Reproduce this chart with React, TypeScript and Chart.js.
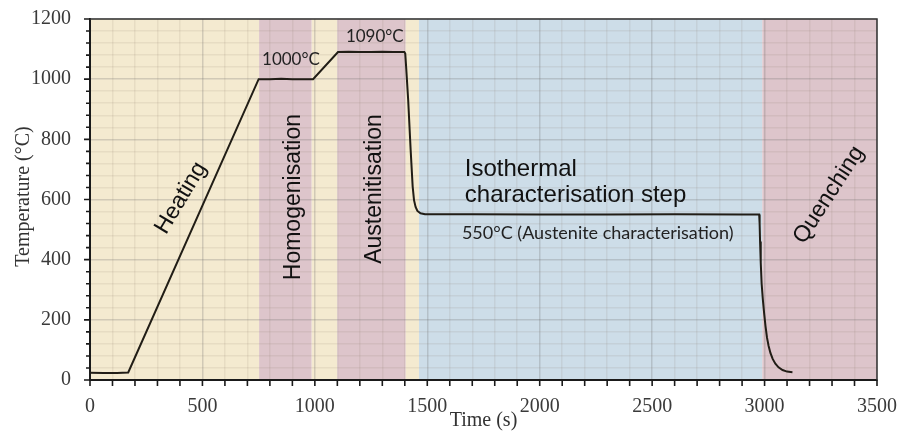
import { useEffect, useRef } from 'react';
import { Chart, registerables } from 'chart.js';

Chart.register(...registerables);

// Measured temperature profile (time in s, temperature in °C)
const TIME_S = [0, 60, 120, 170, 750, 800, 850, 900, 950, 992, 1103, 1150, 1200, 1250, 1300, 1350, 1398, 1402, 1406, 1415, 1426, 1435, 1441, 1448, 1456, 1470, 1490, 1700, 2000, 2300, 2600, 2900, 2976, 2978, 2980, 2983, 2987, 2992, 2998, 3004, 3011, 3018, 3026, 3036, 3048, 3062, 3080, 3100, 3124];
const TEMP_C = [24, 23, 23, 25, 1000, 1000, 1001, 1000, 1000, 1000, 1090, 1091, 1090, 1090, 1091, 1090, 1090, 1085, 1040, 931, 765, 643, 598, 575, 562, 554, 551, 551, 550, 550, 551, 550, 550, 520, 460, 390, 320, 270, 222, 180, 140, 113, 90, 70, 54, 42, 33, 28, 26];

// Process phases (shaded bands)
const PHASE_START = [0, 752, 986, 1100, 1404, 1463, 2990];
const PHASE_END = [752, 986, 1100, 1404, 1463, 2990, 3500];
const PHASE_KIND = ['ramp', 'hold', 'ramp', 'hold', 'ramp', 'iso', 'hold'];

// Axis ticks
const X_MAJOR = [0, 500, 1000, 1500, 2000, 2500, 3000, 3500];
const Y_MAJOR = [0, 200, 400, 600, 800, 1000, 1200];

const KIND_COLOR: Record<string, string> = {
  ramp: 'rgb(244,234,208)',
  hold: 'rgb(221,197,203)',
  iso: 'rgb(205,221,232)',
};

const SERIF = '"Liberation Serif", "DejaVu Serif", serif';
const SANS = '"Liberation Sans", Arial, sans-serif';
const CAL = 'Lato, "Open Sans", sans-serif';

export default function App() {
  const canvasRef = useRef<HTMLCanvasElement | null>(null);

  useEffect(() => {
    const canvas = canvasRef.current;
    if (!canvas) return;

    const phasePlugin = {
      id: 'phases',
      beforeDraw(chart: any) {
        const { ctx, chartArea } = chart;
        const xs = chart.scales.x;
        ctx.save();
        for (let i = 0; i < PHASE_START.length; i++) {
          const x1 = xs.getPixelForValue(PHASE_START[i]);
          const x2 = xs.getPixelForValue(PHASE_END[i]);
          ctx.fillStyle = KIND_COLOR[PHASE_KIND[i]];
          ctx.fillRect(x1, chartArea.top, x2 - x1, chartArea.bottom - chartArea.top);
        }
        ctx.restore();
      },
      afterDatasetsDraw(chart: any) {
        const { ctx } = chart;
        const xs = chart.scales.x;
        const ys = chart.scales.y;
        const px = (t: number) => xs.getPixelForValue(t);
        const py = (v: number) => ys.getPixelForValue(v);
        ctx.save();
        ctx.fillStyle = '#111';

        const rotText = (txt: string, t: number, v: number, deg: number, font: string) => {
          ctx.save();
          ctx.translate(px(t), py(v));
          ctx.rotate((deg * Math.PI) / 180);
          ctx.font = font;
          ctx.textAlign = 'center';
          ctx.textBaseline = 'middle';
          ctx.fillText(txt, 0, 0);
          ctx.restore();
        };

        rotText('Heating', 405, 605, -59, `23px ${SANS}`);
        rotText('Homogenisation', 907, 608, -90, `23px ${SANS}`);
        rotText('Austenitisation', 1267, 635, -90, `23px ${SANS}`);
        rotText('Quenching', 3286, 615, -57, `23px ${SANS}`);

        ctx.textAlign = 'left';
        ctx.textBaseline = 'alphabetic';
        ctx.font = `24px ${SANS}`;
        ctx.fillText('Isothermal', px(1667), py(678));
        ctx.fillText('characterisation step', px(1667), py(592));

        ctx.fillStyle = '#222';
        ctx.font = `17px ${CAL}`;
        ctx.fillText('1000°C', px(765), py(1047));
        ctx.fillText('1090°C', px(1138), py(1124));
        ctx.font = `18px ${CAL}`;
        ctx.fillText('550°C (Austenite characterisation)', px(1654), py(469));
        ctx.restore();
      },
      afterDraw(chart: any) {
        const { ctx, chartArea } = chart;
        const xs = chart.scales.x;
        const ys = chart.scales.y;
        ctx.save();
        // top and right frame
        ctx.strokeStyle = '#333';
        ctx.lineWidth = 1.5;
        ctx.beginPath();
        ctx.moveTo(chartArea.left, chartArea.top);
        ctx.lineTo(chartArea.right, chartArea.top);
        ctx.lineTo(chartArea.right, chartArea.bottom);
        ctx.stroke();

        // tick marks
        ctx.strokeStyle = '#1a1a1a';
        ctx.lineWidth = 1.6;
        ctx.beginPath();
        for (const tk of xs.ticks) {
          const x = xs.getPixelForValue(tk.value);
          ctx.moveTo(x, chartArea.bottom);
          ctx.lineTo(x, chartArea.bottom + 6);
        }
        for (const tk of ys.ticks) {
          const y = ys.getPixelForValue(tk.value);
          const len = Y_MAJOR.includes(tk.value) ? 6 : 4;
          ctx.moveTo(chartArea.left, y);
          ctx.lineTo(chartArea.left - len, y);
        }
        ctx.stroke();

        // axis titles
        ctx.fillStyle = '#333';
        ctx.font = `20px ${SERIF}`;
        ctx.textAlign = 'center';
        ctx.textBaseline = 'middle';
        ctx.fillText('Time (s)', (chartArea.left + chartArea.right) / 2, 421);
        ctx.save();
        ctx.translate(24, (chartArea.top + chartArea.bottom) / 2 - 3);
        ctx.rotate(-Math.PI / 2);
        ctx.fillText('Temperature (°C)', 0, 0);
        ctx.restore();
        ctx.restore();
      },
    };

    const gridColor = (major: number[]) => (c: any) =>
      major.includes(c.tick?.value) ? 'rgba(110,110,110,0.26)' : 'rgba(130,110,90,0.11)';

    const chart = new Chart(canvas, {
      type: 'line',
      data: {
        datasets: [
          {
            data: TIME_S.map((t, i) => ({ x: t, y: TEMP_C[i] })),
            borderColor: '#211d16',
            borderWidth: 2,
            pointRadius: 0,
            tension: 0,
            fill: false,
          },
        ],
      },
      options: {
        responsive: false,
        animation: false,
        layout: { padding: { top: 19, right: 30, left: 0, bottom: 0 } },
        plugins: { legend: { display: false }, tooltip: { enabled: false } },
        scales: {
          x: {
            type: 'linear',
            min: 0,
            max: 3500,
            afterFit: (s: any) => { s.height = 53; s.paddingLeft = 0; s.paddingRight = 0; },
            ticks: {
              stepSize: 100,
              autoSkip: false,
              maxRotation: 0,
              padding: 15,
              color: '#3a3a3a',
              font: { family: SERIF, size: 20 },
              callback: (v: any) => (X_MAJOR.includes(Number(v)) ? String(v) : ''),
            },
            grid: { drawTicks: false, color: gridColor(X_MAJOR), lineWidth: 1.5 },
            border: { display: true, color: '#1a1a1a', width: 2 },
          },
          y: {
            type: 'linear',
            min: 0,
            max: 1200,
            afterFit: (s: any) => { s.width = 90; s.paddingTop = 0; s.paddingBottom = 0; },
            ticks: {
              stepSize: 40,
              autoSkip: false,
              padding: 19,
              color: '#3a3a3a',
              font: { family: SERIF, size: 20 },
              callback: (v: any) => (Y_MAJOR.includes(Number(v)) ? String(v) : ''),
            },
            grid: { drawTicks: false, color: gridColor(Y_MAJOR), lineWidth: 1.5 },
            border: { display: true, color: '#1a1a1a', width: 2 },
          },
        },
      },
      plugins: [phasePlugin],
    } as any);

    return () => chart.destroy();
  }, []);

  return (
    <div style={{ position: 'fixed', left: 0, top: 0, width: 907, height: 433, background: '#fff' }}>
      <canvas ref={canvasRef} width={907} height={433} style={{ width: 907, height: 433, display: 'block' }} />
    </div>
  );
}
